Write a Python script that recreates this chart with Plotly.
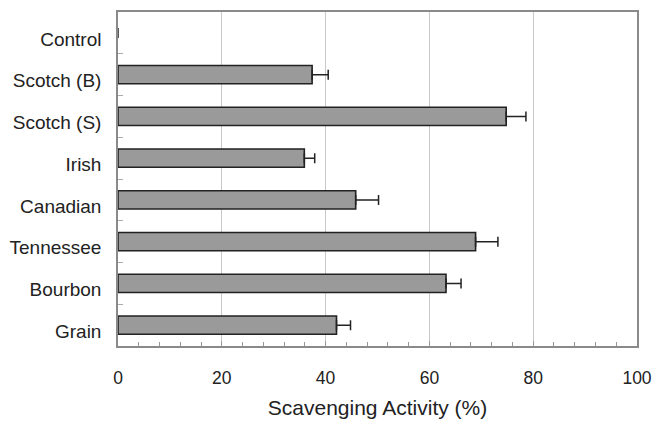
import plotly.graph_objects as go

categories = ["Control", "Scotch (B)", "Scotch (S)", "Irish", "Canadian", "Tennessee", "Bourbon", "Grain"]
values = [0, 37.4, 74.8, 35.9, 45.8, 68.9, 63.2, 42.1]
errors = [None, 3.1, 3.8, 2.0, 4.4, 4.3, 2.9, 2.7]
x_ticks = [0, 20, 40, 60, 80, 100]

font_family = "Liberation Sans, Arial, sans-serif"

fig = go.Figure()
fig.add_trace(go.Bar(
    y=categories,
    x=values,
    orientation="h",
    marker=dict(color="#9a9a9a",
                opacity=[0 if v == 0 else 1 for v in values],
                line=dict(color="#222222", width=[0 if v == 0 else 1.6 for v in values])),
    error_x=dict(type="data", array=errors, symmetric=False,
                 arrayminus=[None if e is None else 0 for e in errors],
                 visible=True, color="#222222", thickness=1.5, width=5),
    showlegend=False,
))

fig.update_layout(
    width=654, height=422,
    margin=dict(l=118, r=17, t=12, b=76),
    paper_bgcolor="white",
    plot_bgcolor="white",
    bargap=0.56,
    font=dict(family=font_family, color="#222222"),
)

fig.update_xaxes(
    range=[0, 100],
    tickvals=x_ticks,
    ticktext=[str(v) for v in x_ticks],
    tickfont=dict(size=17.5, color="#222222"),
    showgrid=True, gridcolor="#c8c8c8", gridwidth=1,
    ticks="inside", ticklen=5, tickcolor="#999999",
    minor=dict(dtick=4, ticks="inside", ticklen=4, tickcolor="#999999", showgrid=False),
    showline=True, linecolor="#8a8a8a", linewidth=1.5, mirror=True,
    zeroline=False,
    automargin=False,
    ticklabelstandoff=15,
    title=dict(text="Scavenging Activity (%)", font=dict(size=21, color="#222222"), standoff=14),
)

fig.update_yaxes(
    type="category",
    categoryorder="array",
    categoryarray=categories,
    autorange="reversed",
    tickfont=dict(size=19, color="#222222"),
    showgrid=False,
    ticks="inside", tickson="boundaries", ticklen=5, tickcolor="#aaaaaa",
    showline=True, linecolor="#8a8a8a", linewidth=1.5, mirror=True,
    automargin=False,
    ticklabelstandoff=11,
    ticklabelshift=-6,
)

fig.write_html(
    "out.html",
    config={"displayModeBar": False},
    post_script="document.body.style.margin='0';document.body.style.overflow='hidden';",
)
